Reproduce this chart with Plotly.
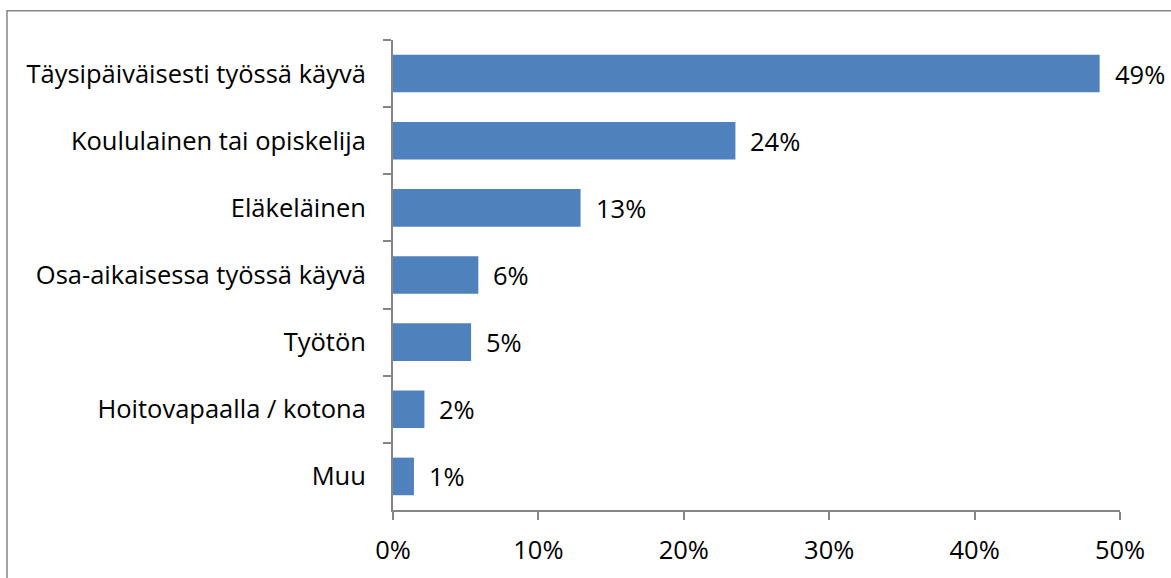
import plotly.graph_objects as go

# Datos: situación vastaajista (osuudet %)
categories = [
    "Täysipäiväisesti työssä käyvä",
    "Koululainen tai opiskelija",
    "Eläkeläinen",
    "Osa-aikaisessa työssä käyvä",
    "Työtön",
    "Hoitovapaalla / kotona",
    "Muu",
]
values = [48.6, 23.55, 12.9, 5.87, 5.37, 2.16, 1.44]
value_labels = ["49%", "24%", "13%", "6%", "5%", "2%", "1%"]
x_ticks = [0, 10, 20, 30, 40, 50]
x_tick_labels = ["0%", "10%", "20%", "30%", "40%", "50%"]

FONT = "Open Sans"
FS = 25.5
GRAY = "#868686"

fig = go.Figure(go.Bar(
    x=values, y=categories, orientation="h",
    marker=dict(color="#4F81BD", line=dict(width=0)),
    hoverinfo="x+y",
))

# Arvot palkkien perään
for cat, val, lab in zip(categories, values, value_labels):
    fig.add_annotation(x=val, y=cat, text=lab, showarrow=False,
                       xanchor="left", xshift=13,
                       font=dict(family=FONT, size=FS, color="black"))

L, R, T, B = 393, 51, 40, 63
W, H = 1171, 578
pw, ph = W - L - R, H - T - B

# Kaavion ulkoreunus (oikea ja ala-reuna jäävät kuvan ulkopuolelle)
fig.add_shape(type="rect", xref="paper", yref="paper",
              x0=(7 - L) / pw, x1=(W + 60 - L) / pw,
              y0=-(H + 60 - T - ph) / ph, y1=1 + (T - 10.5) / ph,
              line=dict(color=GRAY, width=1.5))

fig.update_layout(
    width=W, height=H,
    margin=dict(l=L, r=R, t=T, b=B),
    paper_bgcolor="white", plot_bgcolor="white",
    bargap=0.44, showlegend=False,
    font=dict(family=FONT, size=FS, color="black"),
    xaxis=dict(range=[0, 50], tickvals=x_ticks, ticktext=x_tick_labels,
               showgrid=False, zeroline=False,
               showline=True, linecolor=GRAY, linewidth=2,
               ticks="outside", ticklen=8, tickwidth=2, tickcolor=GRAY,
               ticklabelstandoff=8),
    yaxis=dict(autorange="reversed", showgrid=False, zeroline=False,
               showline=True, linecolor=GRAY, linewidth=2,
               ticks="outside", tickson="boundaries", ticklen=8,
               tickwidth=2, tickcolor=GRAY, ticklabelstandoff=20),
)

fig.write_html("out.html", config={"displayModeBar": False},
               post_script="document.body.style.margin='0';")
